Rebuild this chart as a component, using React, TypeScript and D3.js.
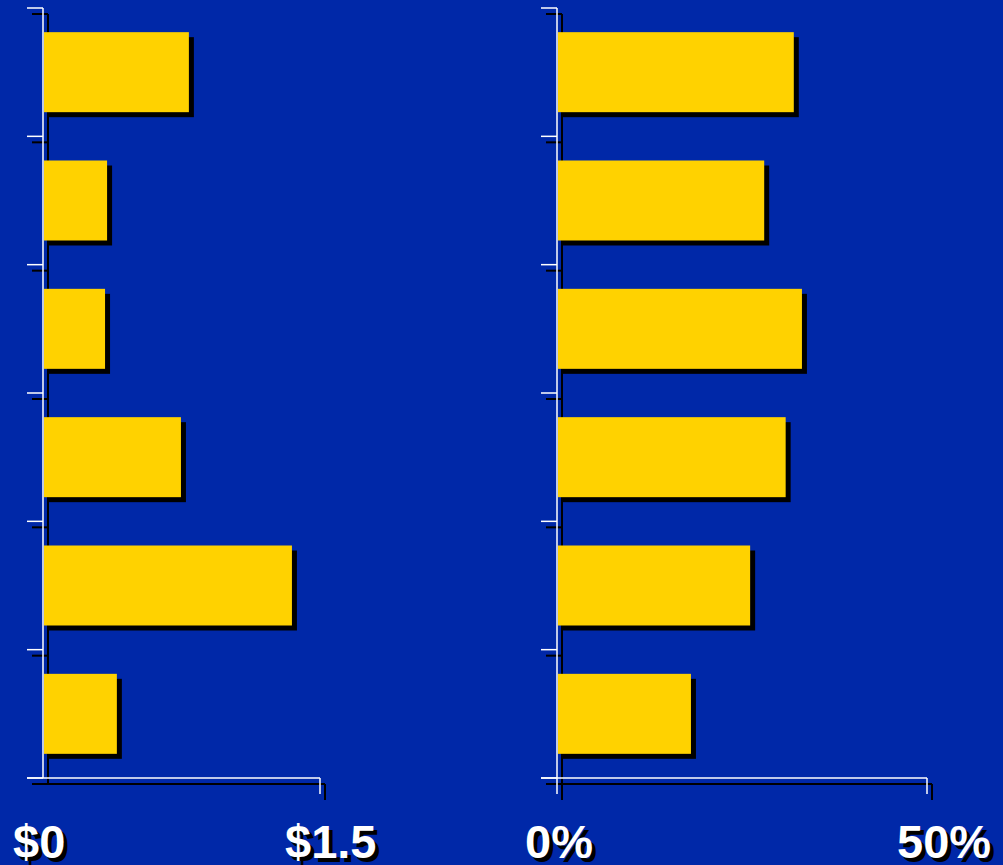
import React from "react";
import * as d3 from "d3";

const categories = ["Item 1", "Item 2", "Item 3", "Item 4", "Item 5", "Item 6"];
const dollarValues = [0.79, 0.347, 0.336, 0.747, 1.348, 0.4];
const percentValues = [32.0, 28.0, 33.1, 30.9, 26.1, 18.1];
const dollarTicks = [0, 1.5];
const dollarTickLabels = ["$0", "$1.5"];
const percentTicks = [0, 50];
const percentTickLabels = ["0%", "50%"];

const W = 1003;
const H = 865;
const BG = "#0028a8";
const BAR = "#ffd200";
const SH = 5;

type PanelProps = {
  values: number[];
  domain: [number, number];
  range: [number, number];
  ticks: number[];
  labels: string[];
  labelDx: number[];
  zeroTick: boolean;
};

const y = d3
  .scaleBand<string>()
  .domain(categories)
  .range([8, 778])
  .paddingInner(0.3766)
  .paddingOuter(0.1883);

function Panel({ values, domain, range, ticks, labels, labelDx, zeroTick }: PanelProps) {
  const x = d3.scaleLinear().domain(domain).range(range);
  const x0 = x(domain[0]);
  const xEnd = x(domain[1]);
  const top = y.range()[0];
  const bottom = y.range()[1];
  const step = y.step();
  const tickYs = d3.range(categories.length + 1).map((i) => top + i * step);
  const tickLen = 16;

  const axisLines = (dx: number, dy: number, color: string, sw: number) => (
    <g stroke={color} strokeWidth={sw} fill="none">
      <line x1={x0 + dx} x2={x0 + dx} y1={top + dy} y2={(zeroTick ? bottom + tickLen : bottom) + dy} />
      {tickYs.map((ty, i) => (
        <line key={i} x1={x0 - tickLen + dx} x2={x0 + dx} y1={ty + dy} y2={ty + dy} />
      ))}
      <line x1={x0 - tickLen + dx} x2={xEnd + dx} y1={bottom + dy} y2={bottom + dy} />
      <line x1={xEnd + dx} x2={xEnd + dx} y1={bottom + dy} y2={bottom + tickLen + dy} />
    </g>
  );

  return (
    <g>
      {axisLines(SH, SH + 1, "#000", 2)}
      {axisLines(0, 0, "#ffffff", 1.5)}
      {values.map((v, i) => (
        <rect
          key={"s" + i}
          x={x0 + 1 + SH}
          y={(y(categories[i]) as number) + SH}
          width={x(v) - x0 - 1}
          height={y.bandwidth()}
          fill="#000"
        />
      ))}
      {values.map((v, i) => (
        <rect
          key={"b" + i}
          x={x0 + 1}
          y={y(categories[i]) as number}
          width={x(v) - x0 - 1}
          height={y.bandwidth()}
          fill={BAR}
        />
      ))}
      {ticks.map((t, i) => (
        <g key={"l" + i} fontFamily="'Liberation Sans', Arial, sans-serif" fontWeight="bold" fontSize={47}>
          <text x={x(t) + labelDx[i] + 4} y={862} fill="#000">
            {labels[i]}
          </text>
          <text x={x(t) + labelDx[i]} y={858} fill="#fff">
            {labels[i]}
          </text>
        </g>
      ))}
    </g>
  );
}

export default function App() {
  return (
    <svg
      width={W}
      height={H}
      style={{ position: "absolute", left: 0, top: 0, display: "block" }}
    >
      <rect x={0} y={0} width={W} height={H} fill={BG} />
      <Panel
        values={dollarValues}
        domain={[0, 1.5]}
        range={[43, 320]}
        ticks={dollarTicks}
        labels={dollarTickLabels}
        labelDx={[-30, -35]}
        zeroTick={false}
      />
      <Panel
        values={percentValues}
        domain={[0, 50]}
        range={[557, 927]}
        ticks={percentTicks}
        labels={percentTickLabels}
        labelDx={[-32, -30]}
        zeroTick={true}
      />
    </svg>
  );
}
